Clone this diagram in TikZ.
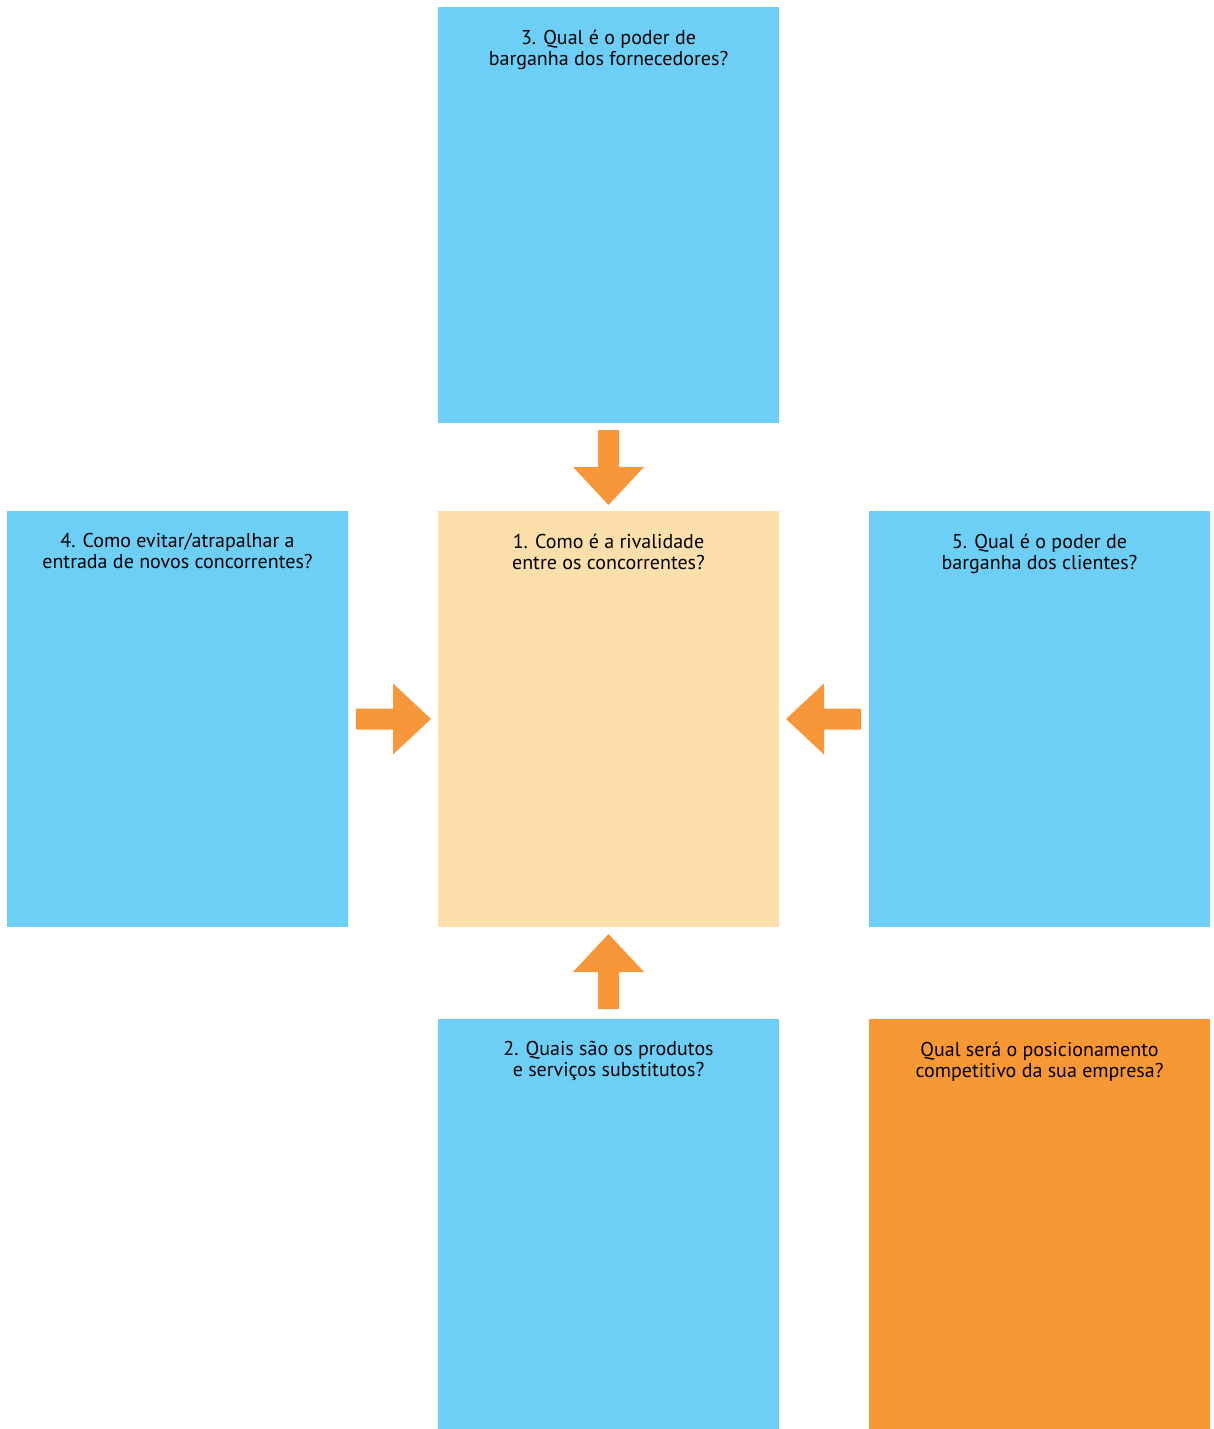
\documentclass[tikz,border=0pt]{standalone}
\usepackage{fontspec}
\setmainfont{PT Sans}
\usetikzlibrary{calc}
\definecolor{boxblue}{HTML}{6DCFF6}
\definecolor{boxpeach}{HTML}{FDDFAB}
\definecolor{boxorange}{HTML}{F79835}
\definecolor{arroworange}{HTML}{F7973A}
\tikzset{
  panel/.style={draw=none, minimum width=341pt, minimum height=416pt, inner sep=0pt, outer sep=0pt},
  bluepanel/.style={panel, fill=boxblue},
  qtext/.style={font=\fontsize{20}{21}\selectfont, align=center, inner sep=0pt, text=black},
  bigarrow/.style={fill=arroworange, draw=none},
}
\newcommand\forcearrow[2]{%
  \fill[bigarrow, shift={#1}, rotate=#2]
    (0,-10.5) -- (37,-10.5) -- (37,-35.5) -- (75,0) -- (37,35.5) -- (37,10.5) -- (0,10.5) -- cycle;}
\begin{document}
\begin{tikzpicture}[x=1pt,y=1pt]
\useasboundingbox (0,0) rectangle (1214,-1429);
% boxes
\node[bluepanel] (forn) at (608.5,-215) {};
\node[bluepanel] (novos) at (177.5,-719) {};
\node[panel, fill=boxpeach] (rival) at (608.5,-719) {};
\node[bluepanel] (clientes) at (1039.5,-719) {};
\node[bluepanel, minimum height=410pt] (subst) at (608.5,-1224) {};
\node[panel, fill=boxorange, minimum height=410pt] (posic) at (1039.5,-1224) {};
% texts
\node[qtext, anchor=north] (t3) at ($(forn.north)+(0,-22.5)$) {3. Qual é o poder de\\barganha dos fornecedores?};
\node[qtext, anchor=north] (t4) at ($(novos.north)+(0,-22.5)$) {4. Como evitar/atrapalhar a\\entrada de novos concorrentes?};
\node[qtext, anchor=north] (t1) at ($(rival.north)+(0,-22.5)$) {1. Como é a rivalidade\\entre os concorrentes?};
\node[qtext, anchor=north] (t5) at ($(clientes.north)+(0,-22.5)$) {5. Qual é o poder de\\barganha dos clientes?};
\node[qtext, anchor=north] (t2) at ($(subst.north)+(0,-22.5)$) {2. Quais são os produtos\\e serviços substitutos?};
\node[qtext, anchor=north] (t6) at ($(posic.north)+(0,-22.5)$) {Qual será o posicionamento\\competitivo da sua empresa?};
% arrows
\forcearrow{($(forn.south)+(0,-7)$)}{-90}
\forcearrow{($(novos.east)+(8,0)$)}{0}
\forcearrow{($(clientes.west)+(-8,0)$)}{180}
\forcearrow{($(subst.north)+(0,10)$)}{90}
\end{tikzpicture}
\end{document}
